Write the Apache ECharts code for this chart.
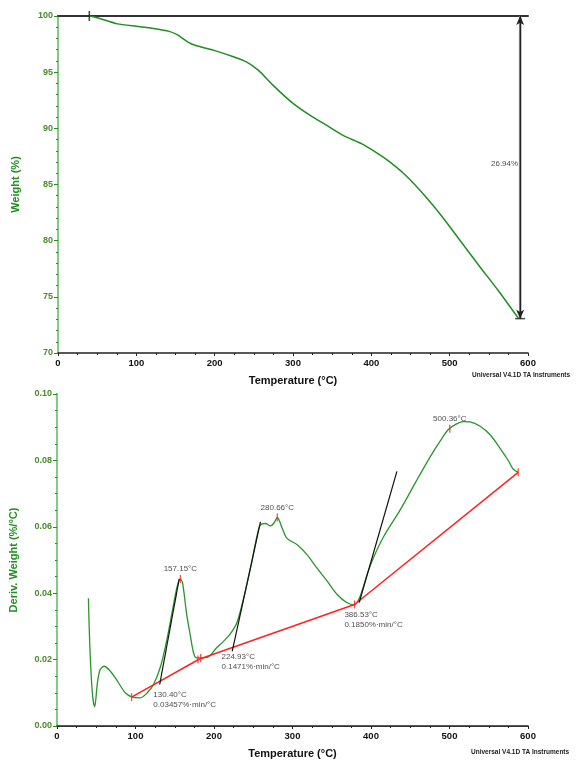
<!DOCTYPE html>
<html><head><meta charset="utf-8">
<script src="https://cdn.jsdelivr.net/npm/echarts@6/dist/echarts.min.js"></script>
<style>html,body{margin:0;padding:0;background:#fff}#c{width:579px;height:760px}</style>
</head><body><div id="c"></div>
<script>
// ---- TGA (top panel) ----
const tgaTemp   = [40, 50, 76, 100, 124, 142, 152, 166, 175, 199, 223, 241, 256, 275, 298, 322, 341, 364, 388, 402, 421, 444, 468, 491, 515, 539, 562, 588];
const tgaWeight = [100, 99.85, 99.3, 99.08, 98.87, 98.63, 98.34, 97.68, 97.39, 96.94, 96.4, 95.9, 95.16, 93.8, 92.34, 91.15, 90.35, 89.37, 88.62, 88.03, 87.14, 85.8, 84.02, 82.09, 79.86, 77.64, 75.56, 73.06];
const lossStartTemp = 40;
const lossArrowTemp = 590;
const weightLoss = 26.94;

// ---- DTG (bottom panel) ----
const dtgTemp  = [40, 42, 45, 48, 51.5, 55, 60, 68, 77, 87, 95, 106, 115, 123, 132, 140, 148, 153, 157, 160, 165, 170, 174, 178, 187, 195, 203, 212, 220, 229, 238, 246.5, 255, 259, 265.6, 272, 276, 280.7, 287, 293, 306, 318.5, 331, 344, 356.6, 369, 378.6, 386, 395, 403, 416, 437, 458, 475, 488, 498.5, 509, 518, 526, 539, 551.5, 564, 575, 581, 587.5];
const dtgValue = [0.0385, 0.023, 0.010, 0.0058, 0.013, 0.017, 0.018, 0.0165, 0.0135, 0.010, 0.0088, 0.0085, 0.010, 0.0125, 0.018, 0.026, 0.036, 0.042, 0.0443, 0.043, 0.034, 0.027, 0.022, 0.0205, 0.0205, 0.0212, 0.0235, 0.0255, 0.0275, 0.031, 0.0387, 0.0476, 0.0575, 0.0605, 0.061, 0.0603, 0.061, 0.0628, 0.0595, 0.0565, 0.0546, 0.0516, 0.0476, 0.0437, 0.0397, 0.0372, 0.0365, 0.039, 0.0456, 0.0506, 0.057, 0.065, 0.0739, 0.0809, 0.0858, 0.0893, 0.091, 0.0917, 0.0916, 0.0903, 0.0878, 0.0838, 0.0799, 0.0774, 0.0764];

const baselineTemp  = [95, 181, 379, 587.5];
const baselineValue = [0.0087, 0.0201, 0.0366, 0.0764];
const baselineTickTemp = [95, 179.5, 183, 379, 587.5];
const baselineTickValue = [0.0087, 0.0200, 0.0205, 0.0366, 0.0764];

const peakTemp  = [157.15, 280.66, 500.36];
const peakValue = [0.0443, 0.0628, 0.0895];

const onsetTemp  = [130.40, 224.93, 386.53];
const onsetValue = [0.0125, 0.0225, 0.0372];
const onsetSlope = ['0.03457', '0.1471', '0.1850'];
const tangentTop = [[155.7, 0.0443], [259.2, 0.0615], [433, 0.0767]];
const tangentBottom = [[130.8, 0.0125], [223.2, 0.0225], [385, 0.0372]];

const xTickLabels = ['0', '100', '200', '300', '400', '500', '600'];

// ---- styles ----
const FONT = "'Liberation Sans', Arial, sans-serif";
const GREEN = '#1f8f1f';
const LABEL_GREEN = '#4a8a2a';
const onsetOffsets = [[-6, 5], [-12, 1], [-16, 7]];

const zip = (a, b) => a.map((v, i) => [v, b[i]]);

function xAxisFor(grid) {
  return {
    gridIndex: grid, type: 'value', min: 0, max: 600, interval: 100, position: 'bottom',
    axisLine: { lineStyle: { color: '#222', width: 1.5 } },
    axisTick: { show: true, length: 3, lineStyle: { color: '#222' } },
    minorTick: { show: true, splitNumber: 4, length: 2, lineStyle: { color: '#222' } },
    splitLine: { show: false },
    axisLabel: { color: '#111', fontFamily: FONT, fontSize: 9.5, fontWeight: 'bold', margin: 5,
      formatter: v => xTickLabels[Math.round(v / 100)] },
    name: 'Temperature (°C)', nameLocation: 'middle', nameGap: 22,
    nameTextStyle: { color: '#111', fontFamily: FONT, fontSize: 11, fontWeight: 'bold' }
  };
}
function topAxisFor(grid, w) {
  return {
    gridIndex: grid, type: 'value', min: 0, max: 600, position: 'top',
    axisLine: { show: true, lineStyle: { color: '#333', width: w } },
    axisTick: { show: false }, axisLabel: { show: false }, splitLine: { show: false }
  };
}
function rightAxisFor(grid, min, max) {
  return {
    gridIndex: grid, type: 'value', min: min, max: max, position: 'right',
    axisLine: { show: true, lineStyle: { color: '#8fd08f', width: 1.8 } },
    axisTick: { show: false }, axisLabel: { show: false }, splitLine: { show: false }
  };
}

const chart = echarts.init(document.getElementById('c'), null, { renderer: 'canvas' });
chart.setOption({
  animation: false,
  backgroundColor: '#ffffff',
  grid: [
    { left: 58, right: 51, top: 16, height: 337 },
    { left: 56, right: 51, top: 394, height: 336 }
  ],
  xAxis: [xAxisFor(0), topAxisFor(0, 2), xAxisFor(1), topAxisFor(1, 1.2)],
  yAxis: [
    {
      gridIndex: 0, type: 'value', min: 70, max: 100, interval: 5,
      axisLine: { show: true, lineStyle: { color: GREEN, width: 2 } },
      axisTick: { show: true, length: 4, lineStyle: { color: GREEN } },
      minorTick: { show: true, splitNumber: 5, length: 2, lineStyle: { color: GREEN } },
      splitLine: { show: false },
      axisLabel: { color: LABEL_GREEN, fontFamily: FONT, fontSize: 9, fontWeight: 'bold', margin: 5 },
      name: 'Weight (%)', nameLocation: 'middle', nameGap: 37,
      nameTextStyle: { color: GREEN, fontFamily: FONT, fontSize: 11, fontWeight: 'bold' }
    },
    rightAxisFor(0, 70, 100),
    {
      gridIndex: 1, type: 'value', min: 0, max: 0.1, interval: 0.02,
      axisLine: { show: true, lineStyle: { color: GREEN, width: 2 } },
      axisTick: { show: true, length: 4, lineStyle: { color: GREEN } },
      minorTick: { show: true, splitNumber: 4, length: 2, lineStyle: { color: GREEN } },
      splitLine: { show: false },
      axisLabel: { color: LABEL_GREEN, fontFamily: FONT, fontSize: 9, fontWeight: 'bold', margin: 5, formatter: v => v.toFixed(2) },
      name: 'Deriv. Weight (%/°C)', nameLocation: 'middle', nameGap: 38,
      nameTextStyle: { color: GREEN, fontFamily: FONT, fontSize: 11, fontWeight: 'bold' }
    },
    rightAxisFor(1, 0, 0.1)
  ],
  series: [
    { type: 'line', xAxisIndex: 0, yAxisIndex: 0, data: zip(tgaTemp, tgaWeight), showSymbol: false, symbol: 'none',
      smooth: 0.2, lineStyle: { color: GREEN, width: 1.5 }, z: 3 },
    { type: 'scatter', xAxisIndex: 0, yAxisIndex: 0, data: [[lossStartTemp, 100]], symbol: 'rect', symbolSize: [1.6, 10],
      itemStyle: { color: '#222' }, z: 5 },
    { type: 'line', xAxisIndex: 0, yAxisIndex: 0, data: [[lossArrowTemp, 100], [lossArrowTemp, 100 - weightLoss]],
      symbol: 'none', lineStyle: { color: '#777', width: 2.5 }, z: 4,
      markLine: { silent: true, symbol: ['arrow', 'arrow'], symbolSize: [6, 9], label: { show: false },
        lineStyle: { color: '#222', width: 1, type: 'solid' },
        data: [[{ coord: [lossArrowTemp, 100] }, { coord: [lossArrowTemp, 100 - weightLoss] }]] } },
    { type: 'scatter', xAxisIndex: 0, yAxisIndex: 0, data: [[lossArrowTemp, 100 - weightLoss]], symbol: 'rect',
      symbolSize: [10, 1.5], itemStyle: { color: '#222' }, z: 5 },
    { type: 'scatter', xAxisIndex: 0, yAxisIndex: 0, data: [[lossArrowTemp, 100 - weightLoss / 2 + 0.3]], symbolSize: 0.1,
      itemStyle: { color: 'rgba(0,0,0,0)' },
      label: { show: true, position: 'left', distance: 2, formatter: weightLoss.toFixed(2) + '%',
        color: '#222', fontFamily: FONT, fontSize: 8 } },

    { type: 'line', xAxisIndex: 2, yAxisIndex: 2, data: zip(dtgTemp, dtgValue), showSymbol: false, symbol: 'none',
      smooth: 0.3, lineStyle: { color: '#27962a', width: 1.3 }, z: 3 },
    { type: 'line', xAxisIndex: 2, yAxisIndex: 2, data: zip(baselineTemp, baselineValue), symbol: 'none',
      lineStyle: { color: '#ff2222', width: 1.5 }, z: 4 },
    ...tangentBottom.map((b, i) => ({
      type: 'line', xAxisIndex: 2, yAxisIndex: 2, data: [b, tangentTop[i]], symbol: 'none',
      lineStyle: { color: '#111', width: 1.2 }, z: 5
    })),
    { type: 'scatter', xAxisIndex: 2, yAxisIndex: 2, data: zip(baselineTickTemp, baselineTickValue).concat(zip(peakTemp, peakValue)),
      symbol: 'rect', symbolSize: [1.3, 8], itemStyle: { color: '#ff2222' }, z: 6 },
    { type: 'scatter', xAxisIndex: 2, yAxisIndex: 2, data: zip(peakTemp, peakValue).map((d, i) => ({ value: d, name: peakTemp[i].toFixed(2) + '°C' })),
      symbolSize: 0.1, itemStyle: { color: 'rgba(0,0,0,0)' },
      label: { show: true, position: 'top', distance: 6, formatter: p => p.name, color: '#222', fontFamily: FONT, fontSize: 8 } },
    { type: 'scatter', xAxisIndex: 2, yAxisIndex: 2,
      data: zip(onsetTemp, onsetValue).map((d, i) => ({
        value: d,
        label: { position: onsetOffsets[i], formatter: onsetTemp[i].toFixed(2) + '°C\n' + onsetSlope[i] + '%·min/°C' }
      })),
      symbolSize: 0.1, itemStyle: { color: 'rgba(0,0,0,0)' },
      label: { show: true, align: 'left', verticalAlign: 'top', color: '#222', fontFamily: FONT, fontSize: 8, lineHeight: 10 } }
  ],
  graphic: [
    { type: 'text', left: 472, top: 372, style: { text: 'Universal V4.1D TA Instruments', fill: '#222', font: 'bold 6.5px ' + FONT } },
    { type: 'text', left: 471, top: 749, style: { text: 'Universal V4.1D TA Instruments', fill: '#222', font: 'bold 6.5px ' + FONT } }
  ]
});
</script>
</body></html>
